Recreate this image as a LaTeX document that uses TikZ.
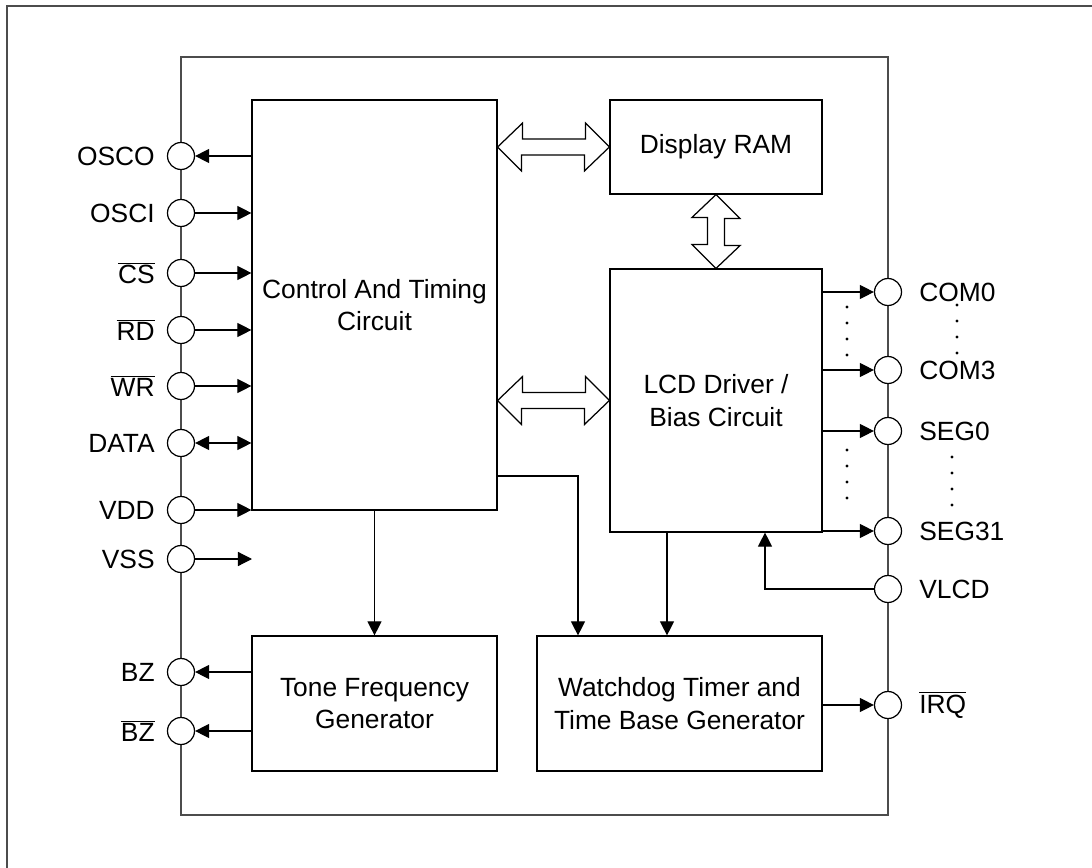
\documentclass[tikz,border=0pt]{standalone}
\usepackage{fontspec}
\setmainfont{Liberation Sans}
\usetikzlibrary{arrows.meta}

\tikzset{
  every node/.style={font=\fontsize{15pt}{18.5pt}\selectfont},
  block/.style={draw,line width=0.7pt,align=center,inner sep=0pt},
  pad/.style={draw,circle,fill=white,line width=0.7pt,minimum size=0.54cm,inner sep=0pt},
  sig/.style={line width=0.7pt,-{Triangle[length=8pt,width=8pt]}},
  dsig/.style={line width=0.7pt,{Triangle[length=8pt,width=8pt]}-{Triangle[length=8pt,width=8pt]}},
  fat/.style={draw,line width=0.7pt,fill=white,line join=miter},
}

\begin{document}
\begin{tikzpicture}[x=0.02cm,y=-0.02cm]
    \useasboundingbox (0,0) rectangle (1092,868);
    % frame and chip outline
    \draw[gray!60!black,line width=0.8pt] (7,868) -- (7,6) -- (1092,6);
    \draw[gray!60!black,line width=0.8pt] (181,57) rectangle (888,815);

    % blocks
    \node[block,minimum width=4.9cm,minimum height=8.2cm] (ctl) at (374.5,305) {Control And Timing\\Circuit};
    \node[block,minimum width=4.24cm,minimum height=1.88cm] (ram) at (716,147) {Display RAM};
    \node[block,minimum width=4.24cm,minimum height=5.26cm] (lcd) at (716,400.5) {LCD Driver /\\Bias Circuit};
    \node[block,minimum width=4.9cm,minimum height=2.7cm] (tone) at (374.5,703.5) {Tone Frequency\\Generator};
    \node[block,minimum width=5.7cm,minimum height=2.7cm] (wdt) at (679.5,703.5) {Watchdog Timer and\\Time Base Generator};

    % left pads
    \node[pad] (osco) at (181,156) {};
    \node[pad] (osci) at (181,213) {};
    \node[pad] (cs) at (181,273) {};
    \node[pad] (rd) at (181,330) {};
    \node[pad] (wr) at (181,386) {};
    \node[pad] (data) at (181,443) {};
    \node[pad] (vdd) at (181,510) {};
    \node[pad] (vss) at (181,559) {};
    \node[pad] (bz) at (181,672) {};
    \node[pad] (bzb) at (181,731) {};
    \node (osco-l) at (155,156) [left,inner sep=0pt] {OSCO};
    \node (osci-l) at (155,213) [left,inner sep=0pt] {OSCI};
    \node (cs-l) at (155,273) [left,inner sep=0pt] {$\overline{\mbox{CS}}$};
    \node (rd-l) at (155,330) [left,inner sep=0pt] {$\overline{\mbox{RD}}$};
    \node (wr-l) at (155,386) [left,inner sep=0pt] {$\overline{\mbox{WR}}$};
    \node (data-l) at (155,443) [left,inner sep=0pt] {DATA};
    \node (vdd-l) at (155,510) [left,inner sep=0pt] {VDD};
    \node (vss-l) at (155,559) [left,inner sep=0pt] {VSS};
    \node (bz-l) at (155,672) [left,inner sep=0pt] {BZ};
    \node (bzb-l) at (155,731) [left,inner sep=0pt] {$\overline{\mbox{BZ}}$};

    % right pads
    \node[pad] (com0) at (888,292) {};
    \node[pad] (com3) at (888,370) {};
    \node[pad] (seg0) at (888,431) {};
    \node[pad] (seg31) at (888,531) {};
    \node[pad] (vlcd) at (888,589) {};
    \node[pad] (irq) at (888,705) {};
    \node (com0-l) at (919,292) [right,inner sep=0pt] {COM0};
    \node (com3-l) at (919,370) [right,inner sep=0pt] {COM3};
    \node (seg0-l) at (919,431) [right,inner sep=0pt] {SEG0};
    \node (seg31-l) at (919,531) [right,inner sep=0pt] {SEG31};
    \node (vlcd-l) at (919,589) [right,inner sep=0pt] {VLCD};
    \node (irq-l) at (919,705) [right,inner sep=0pt] {$\overline{\mbox{IRQ}}$};

    % pad signals
    \draw[sig] (ctl.west |- osco) -- (osco);
    \draw[sig] (osci) -- (ctl.west |- osci);
    \draw[sig] (cs) -- (ctl.west |- cs);
    \draw[sig] (rd) -- (ctl.west |- rd);
    \draw[sig] (wr) -- (ctl.west |- wr);
    \draw[dsig] (data) -- (ctl.west |- data);
    \draw[sig] (vdd) -- (ctl.west |- vdd);
    \coordinate (vssend) at (252,559);
    \draw[sig] (vss) -- (vssend);
    \draw[sig] (tone.west |- bz) -- (bz);
    \draw[sig] (tone.west |- bzb) -- (bzb);

    \draw[sig] (lcd.east |- com0) -- (com0);
    \draw[sig] (lcd.east |- com3) -- (com3);
    \draw[sig] (lcd.east |- seg0) -- (seg0);
    \draw[sig] (lcd.east |- seg31) -- (seg31);
    \draw[sig] (wdt.east |- irq) -- (irq);
    \coordinate (vlcdbend) at (765,589);
    \draw[sig] (vlcd) -- (vlcdbend) -- (vlcdbend |- lcd.south);

    % dots
    \foreach \y in {307,323,339,355} {
        \fill (847,\y) circle (0.9pt);
        \fill (957,\y-2) circle (0.9pt);
    }
    \foreach \y in {450,466,482,498} {
        \fill (847,\y) circle (0.9pt);
        \fill (952,\y+7) circle (0.9pt);
    }

    % internal signals
    \draw[sig] (ctl.south -| tone.north) -- (tone.north);
    \coordinate (bend) at (578,476);
    \draw[sig] (ctl.east |- bend) -- (bend) -- (bend |- wdt.north);
    \coordinate (lcdtap) at (667,532);
    \draw[sig] (lcdtap) -- (lcdtap |- wdt.north);

    % buses
    \draw[fat] (ctl.east |- ram.west) -- ++(25,-24) -- ++(0,16) -- ++(63,0) -- ++(0,-16)
        -- (ram.west) -- ++(-25,24) -- ++(0,-16) -- ++(-63,0) -- ++(0,16) -- cycle;
    \draw[fat] (ctl.east |- lcd.west) -- ++(25,-24) -- ++(0,16) -- ++(63,0) -- ++(0,-16)
        -- (lcd.west) -- ++(-25,24) -- ++(0,-16) -- ++(-63,0) -- ++(0,16) -- cycle;
    \draw[fat] (ram.south) -- ++(24,24) -- ++(-15.5,0) -- ++(0,27) -- ++(15.5,0)
        -- (lcd.north) -- ++(-24,-24) -- ++(15.5,0) -- ++(0,-27) -- ++(-15.5,0) -- cycle;
\end{tikzpicture}
\end{document}
